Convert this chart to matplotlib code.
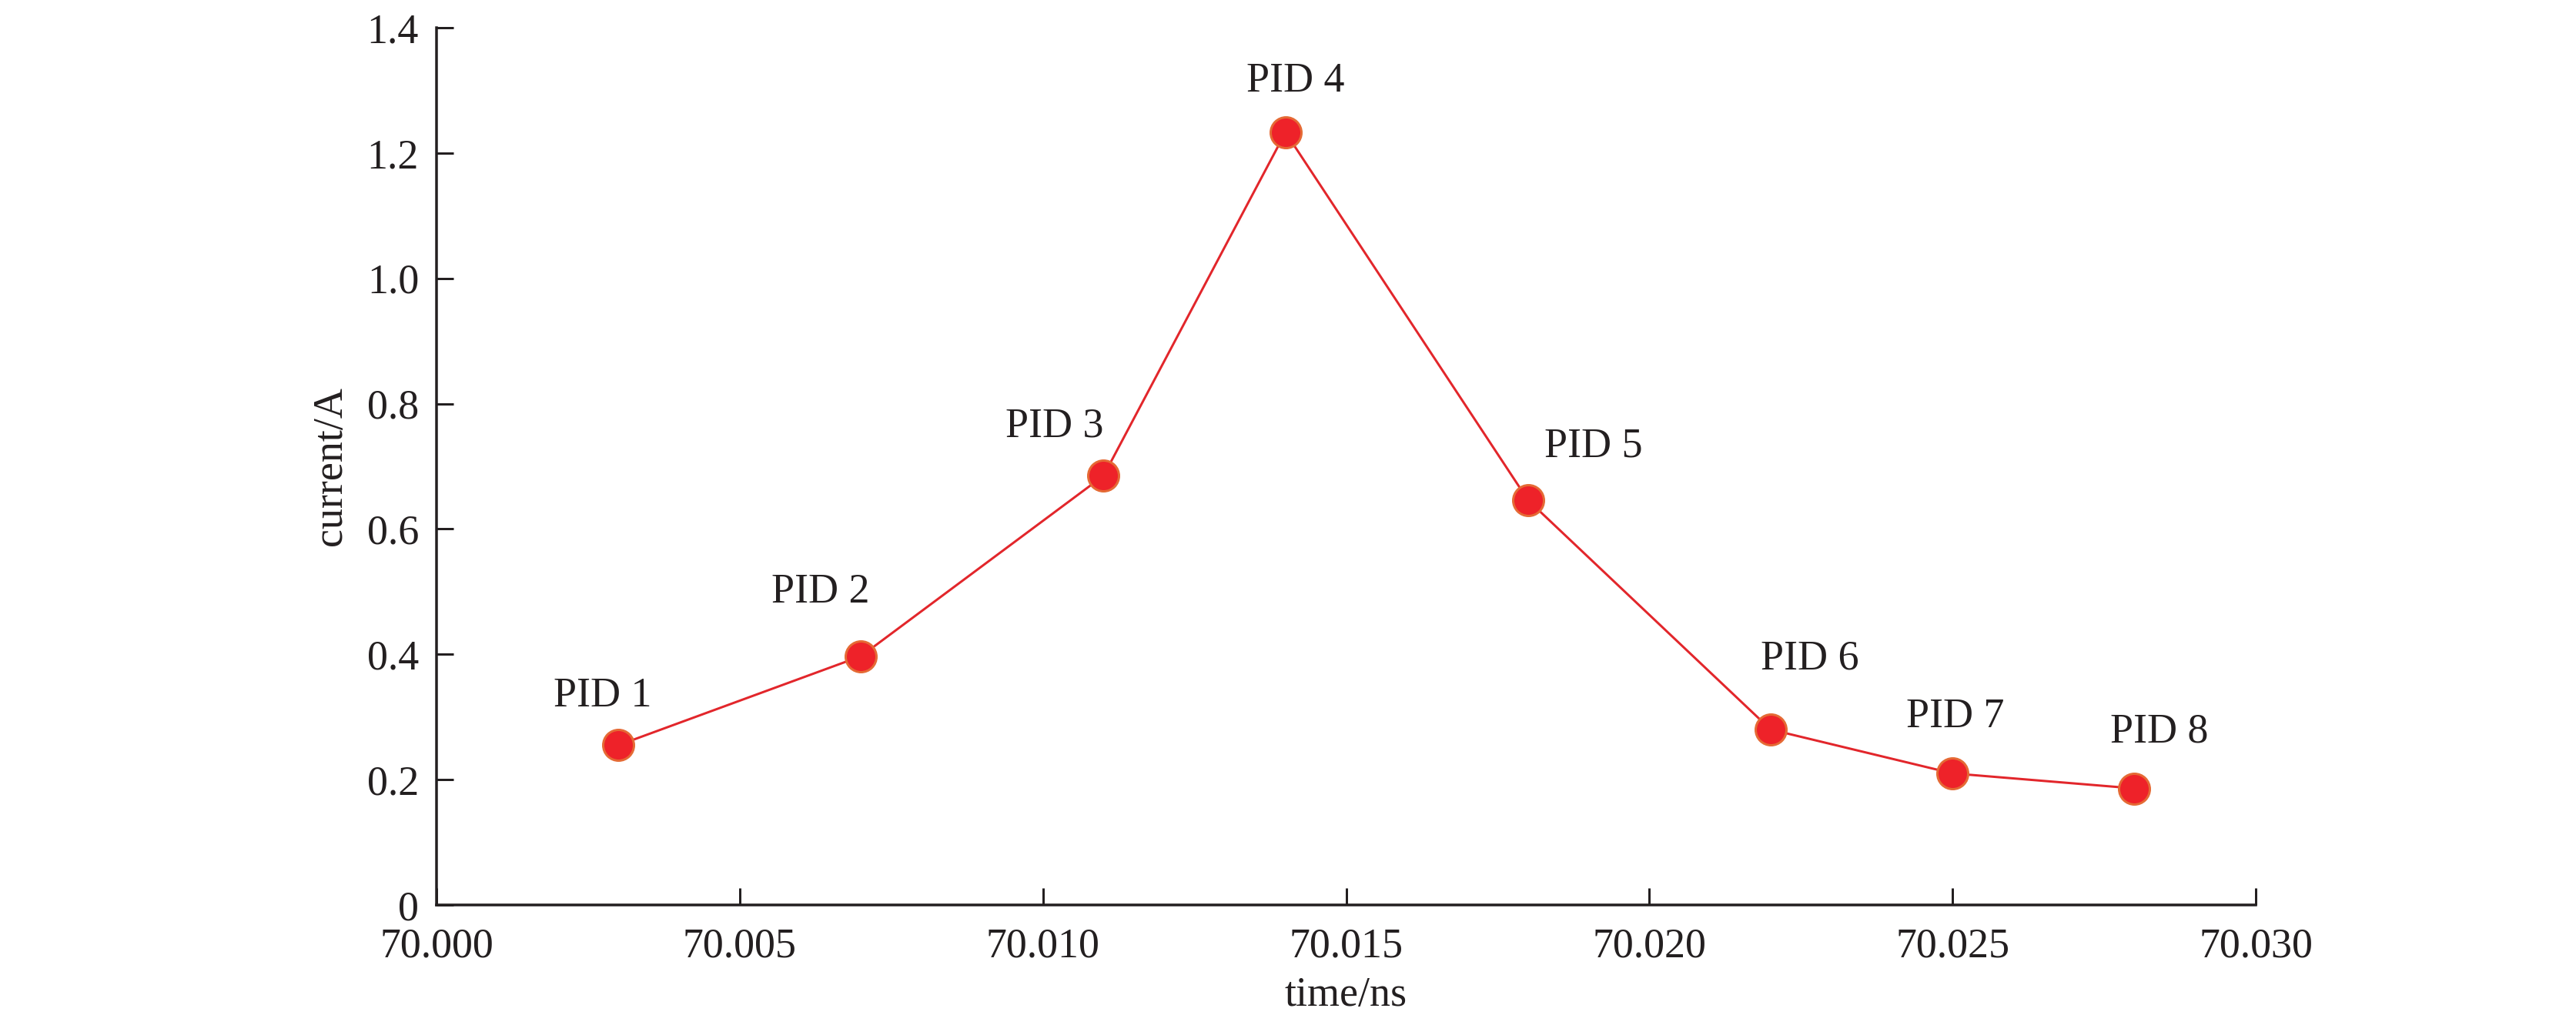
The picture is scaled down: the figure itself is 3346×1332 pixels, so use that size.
#!/usr/bin/env python3
"""
Current per PID peak vs time.
"""
import matplotlib
matplotlib.use("Agg")
import matplotlib.pyplot as plt
from matplotlib.ticker import FuncFormatter

# data
time_ns = [70.003, 70.007, 70.011, 70.014, 70.018, 70.022, 70.025, 70.028]
current_a = [0.255, 0.397, 0.685, 1.233, 0.646, 0.280, 0.210, 0.186]
labels = ["PID 1", "PID 2", "PID 3", "PID 4", "PID 5", "PID 6", "PID 7", "PID 8"]
x_ticks = [70.000, 70.005, 70.010, 70.015, 70.020, 70.025, 70.030]
y_ticks = [0, 0.2, 0.4, 0.6, 0.8, 1.0, 1.2, 1.4]

# label offsets (pixels, dpi=72 so px == pt)
label_offsets = [(-21, 64), (-53, 83), (-64, 64), (13, 66),
                 (85, 70), (51, 92), (4, 73), (32, 73)]

TEXT = '#231f20'
DPI = 72
plt.rcParams['font.family'] = ['Liberation Serif', 'DejaVu Serif']

fig = plt.figure(figsize=(3346 / DPI, 1332 / DPI), dpi=DPI, facecolor='white')
ax = fig.add_axes([567 / 3346, 1 - 1176 / 1332, (2930 - 567) / 3346, (1176 - 36) / 1332])

ax.plot(time_ns, current_a, color='#e2262b', linewidth=3, zorder=2,
        marker='o', markersize=40, markerfacecolor='#ee2229',
        markeredgecolor='#e56a35', markeredgewidth=3)

for x, y, txt, (dx, dy) in zip(time_ns, current_a, labels, label_offsets):
    ax.annotate(txt, xy=(x, y), xytext=(dx, dy), textcoords='offset points',
                ha='center', va='center', fontsize=54, color=TEXT)

ax.set_xlim(70.000, 70.030)
ax.set_ylim(0, 1.4)
ax.set_xticks(x_ticks)
ax.set_yticks(y_ticks)
ax.xaxis.set_major_formatter(FuncFormatter(lambda v, p: f'{v:.3f}'))
ax.yaxis.set_major_formatter(FuncFormatter(lambda v, p: '0' if abs(v) < 1e-9 else f'{v:.1f}'))

ax.set_xlabel('time/ns', fontsize=54, color=TEXT, labelpad=13)
ax.set_ylabel('current/A', fontsize=54, color=TEXT, labelpad=22)

ax.tick_params(direction='in', length=22, width=3, colors=TEXT, labelsize=54)
ax.tick_params(axis='x', pad=29)
ax.tick_params(axis='y', pad=23)
for side in ['top', 'right']:
    ax.spines[side].set_visible(False)
for side in ['left', 'bottom']:
    ax.spines[side].set_linewidth(3.5)
    ax.spines[side].set_color(TEXT)

fig.savefig('out.png', dpi=DPI, facecolor='white')
